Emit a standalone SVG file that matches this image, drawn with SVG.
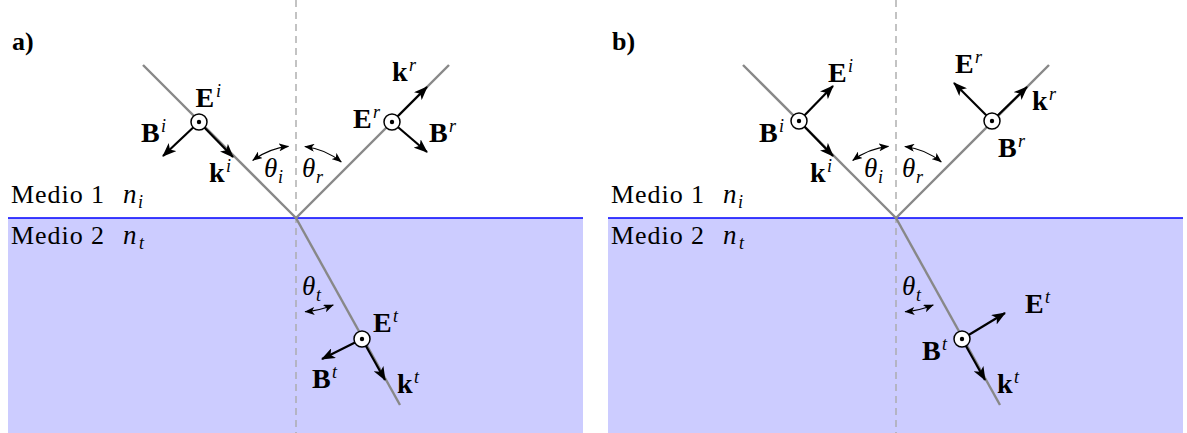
<svg xmlns="http://www.w3.org/2000/svg" width="1187" height="433" viewBox="0 0 1187 433" font-family="'Liberation Serif', 'DejaVu Serif', serif">
<style>
text{font-family:"Liberation Serif","DejaVu Serif",serif;fill:#000}
.t{font-size:26px}
.lbl{font-size:26px;font-weight:bold}
.v{font-size:28px;font-weight:bold}
.m{font-size:27px;font-style:italic}
.s{font-size:18px;font-style:italic;font-weight:normal}
.ray{stroke:#888;stroke-width:2.4;fill:none}
.dash{stroke:#aaa;stroke-width:1.4;stroke-dasharray:7 5;fill:none}
.vec{stroke:#000;stroke-width:2.2;fill:none;marker-end:url(#ah)}
.ang{stroke:#000;stroke-width:1.1;fill:none;marker-start:url(#sa);marker-end:url(#sa)}
.dot{fill:#fff;stroke:#000;stroke-width:1.5}
</style>
<defs>
<marker id="ah" viewBox="0 0 14 11" refX="13" refY="5.5" markerWidth="14" markerHeight="11" markerUnits="userSpaceOnUse" orient="auto">
<path d="M0,0 L14,5.5 L0,11 L3.5,5.5 Z" fill="#000"/>
</marker>
<marker id="sa" viewBox="0 0 10 8" refX="9.5" refY="4" markerWidth="10" markerHeight="8" markerUnits="userSpaceOnUse" orient="auto-start-reverse">
<path d="M0,0 L10,4 L0,8 L2.5,4 Z" fill="#000"/>
</marker>
<g id="pt"><circle class="dot" r="8"/><circle r="2.2" fill="#000"/></g>
</defs>

<g id="panelA-media">
<rect x="8" y="218" width="575" height="215" fill="#ccccff"/>
<line x1="8" y1="218" x2="583" y2="218" stroke="#0000ff" stroke-width="1.4"/>
</g>
<g id="panelB-media">
<rect x="608" y="218" width="575" height="215" fill="#ccccff"/>
<line x1="608" y1="218" x2="1183" y2="218" stroke="#0000ff" stroke-width="1.4"/>
</g>

<g id="connectors">
<line class="dash" x1="296" y1="0" x2="296" y2="433"/>
<line class="ray" x1="143" y1="65" x2="296" y2="218"/>
<line class="ray" x1="296" y1="218" x2="449" y2="65"/>
<line class="ray" x1="296" y1="218" x2="400" y2="405"/>
<path class="ang" d="M252.7,160.5 A72,72 0 0 1 288.5,146.4"/>
<path class="ang" d="M304.8,146.5 A72,72 0 0 1 341.3,162"/>
<path class="ang" d="M305,311.7 A95,95 0 0 0 333.3,305"/>
<line class="vec" x1="199" y1="122" x2="233" y2="157"/>
<line class="vec" x1="199" y1="122" x2="163" y2="156"/>
<line class="vec" x1="392" y1="122" x2="427" y2="87"/>
<line class="vec" x1="392" y1="122" x2="427" y2="152"/>
<line class="vec" x1="362" y1="339" x2="385" y2="380"/>
<line class="vec" x1="362" y1="339" x2="322" y2="359"/>
<line class="dash" x1="896" y1="0" x2="896" y2="433"/>
<line class="ray" x1="743" y1="65" x2="896" y2="218"/>
<line class="ray" x1="896" y1="218" x2="1049" y2="65"/>
<line class="ray" x1="896" y1="218" x2="1000" y2="405"/>
<path class="ang" d="M852.7,160.5 A72,72 0 0 1 888.5,146.4"/>
<path class="ang" d="M904.8,146.5 A72,72 0 0 1 941.3,162"/>
<path class="ang" d="M905,311.7 A95,95 0 0 0 933.3,305"/>
<line class="vec" x1="799" y1="121" x2="833" y2="86"/>
<line class="vec" x1="799" y1="121" x2="833" y2="156"/>
<line class="vec" x1="992" y1="121" x2="954" y2="83"/>
<line class="vec" x1="992" y1="121" x2="1027" y2="87"/>
<line class="vec" x1="962" y1="339" x2="1005" y2="313"/>
<line class="vec" x1="962" y1="339" x2="985" y2="380"/>
</g>

<g id="a-label"><text class="lbl" x="12" y="50">a)</text></g>
<g id="a-medio1"><text class="t" x="11" y="203" textLength="93">Medio 1</text><text class="m" x="123" y="203">n</text><text class="s" x="138" y="208">i</text></g>
<g id="a-medio2"><text class="t" x="11" y="244" textLength="93">Medio 2</text><text class="m" x="123" y="244">n</text><text class="s" x="139" y="249">t</text></g>
<g id="a-incident"><use href="#pt" x="199" y="122"/>
<text class="v" x="195.5" y="107">E</text><text class="s" x="216" y="97">i</text>
<text class="v" x="141" y="142">B</text><text class="s" x="161" y="132">i</text>
<text class="v" x="209" y="182">k</text><text class="s" x="226" y="172">i</text></g>
<g id="a-reflected"><use href="#pt" x="392" y="122"/>
<text class="v" x="353" y="128">E</text><text class="s" x="373" y="118">r</text>
<text class="v" x="392" y="81">k</text><text class="s" x="409" y="71">r</text>
<text class="v" x="429" y="142">B</text><text class="s" x="449" y="132">r</text></g>
<g id="a-transmitted"><use href="#pt" x="362" y="339"/>
<text class="v" x="373" y="332">E</text><text class="s" x="393" y="322">t</text>
<text class="v" x="312" y="388">B</text><text class="s" x="332" y="378">t</text>
<text class="v" x="397" y="393">k</text><text class="s" x="414" y="383">t</text></g>
<g id="a-angles">
<text class="m" x="264" y="177">θ</text><text class="s" x="278" y="183">i</text>
<text class="m" x="302" y="177">θ</text><text class="s" x="316" y="183">r</text>
<text class="m" x="302" y="295">θ</text><text class="s" x="316" y="301">t</text></g>

<g id="b-label"><text class="lbl" x="612" y="50">b)</text></g>
<g id="b-medio1"><text class="t" x="611" y="203" textLength="93">Medio 1</text><text class="m" x="723" y="203">n</text><text class="s" x="738" y="208">i</text></g>
<g id="b-medio2"><text class="t" x="611" y="244" textLength="93">Medio 2</text><text class="m" x="723" y="244">n</text><text class="s" x="739" y="249">t</text></g>
<g id="b-incident"><use href="#pt" x="799" y="121"/>
<text class="v" x="828" y="82">E</text><text class="s" x="848" y="72">i</text>
<text class="v" x="759" y="142">B</text><text class="s" x="779" y="132">i</text>
<text class="v" x="810" y="182">k</text><text class="s" x="827" y="172">i</text></g>
<g id="b-reflected"><use href="#pt" x="992" y="121"/>
<text class="v" x="955" y="73">E</text><text class="s" x="975" y="63">r</text>
<text class="v" x="1032" y="110">k</text><text class="s" x="1049" y="100">r</text>
<text class="v" x="998" y="157">B</text><text class="s" x="1018" y="147">r</text></g>
<g id="b-transmitted"><use href="#pt" x="962" y="339"/>
<text class="v" x="1025" y="313">E</text><text class="s" x="1045" y="303">t</text>
<text class="v" x="922" y="360">B</text><text class="s" x="942" y="350">t</text>
<text class="v" x="997" y="393">k</text><text class="s" x="1014" y="383">t</text></g>
<g id="b-angles">
<text class="m" x="864" y="177">θ</text><text class="s" x="878" y="183">i</text>
<text class="m" x="902" y="177">θ</text><text class="s" x="916" y="183">r</text>
<text class="m" x="902" y="295">θ</text><text class="s" x="916" y="301">t</text></g>
</svg>
